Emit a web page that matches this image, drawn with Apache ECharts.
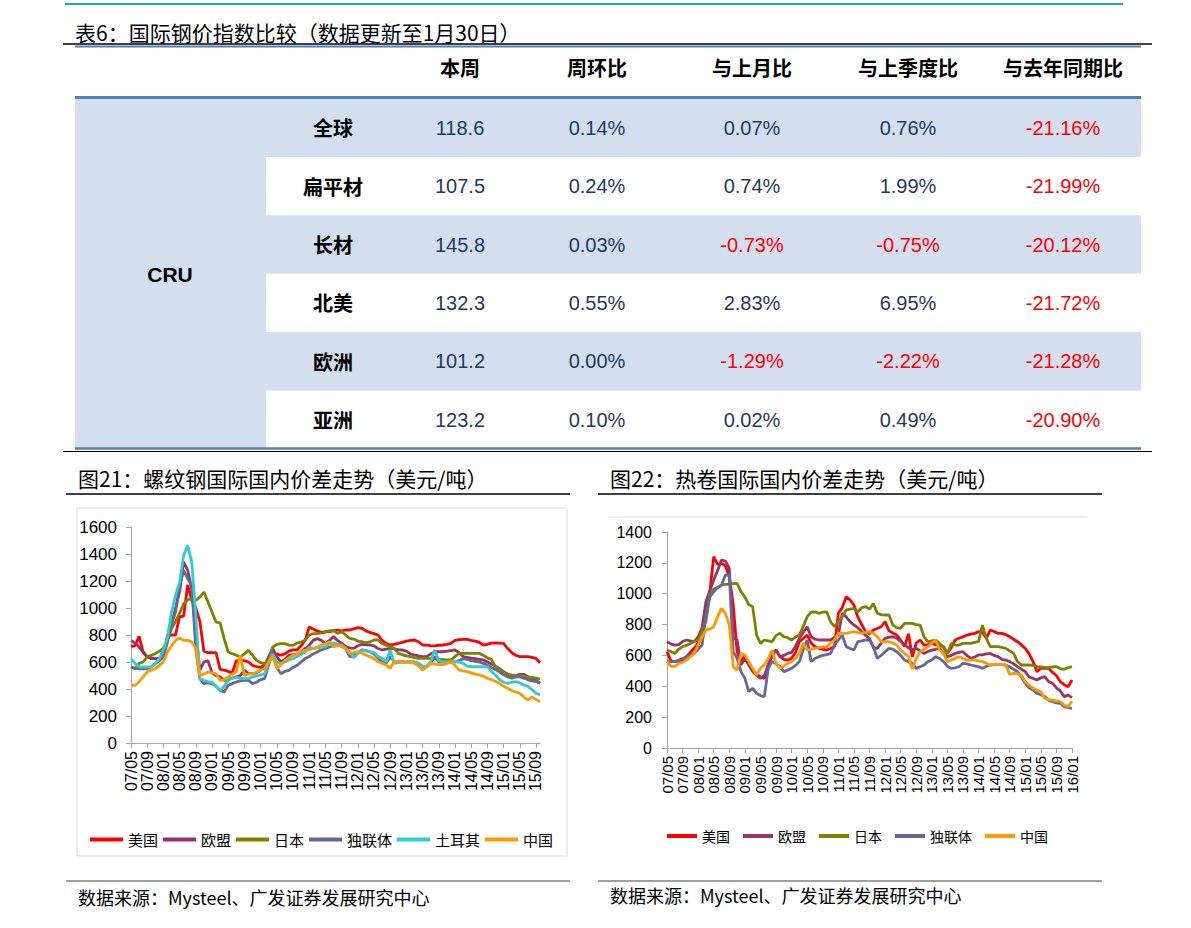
<!DOCTYPE html>
<html>
<head>
<meta charset="utf-8">
<script src="https://cdn.jsdelivr.net/npm/echarts@6/dist/echarts.min.js"></script>
<style>
html,body{margin:0;padding:0;background:#fff;}
#main{width:1191px;height:928px;}
</style>
</head>
<body>
<div id="main"></div>
<script>
// ---------- Table data ----------
const tableTitle = '表6：国际钢价指数比较（数据更新至1月30日）';
const tableGroup = 'CRU';
const tableHeaders = ['本周', '周环比', '与上月比', '与上季度比', '与去年同期比'];
const regions = ['全球', '扁平材', '长材', '北美', '欧洲', '亚洲'];
const thisWeek = [118.6, 107.5, 145.8, 132.3, 101.2, 123.2];
const weekChg = [0.14, 0.24, 0.03, 0.55, 0.00, 0.10];
const monthChg = [0.07, 0.74, -0.73, 2.83, -1.29, 0.02];
const quarterChg = [0.76, 1.99, -0.75, 6.95, -2.22, 0.49];
const yearChg = [-21.16, -21.99, -20.12, -21.72, -21.28, -20.90];

// ---------- Chart data ----------
const title1 = '图21：螺纹钢国际国内价差走势（美元/吨）';
const title2 = '图22：热卷国际国内价差走势（美元/吨）';
const sourceText = '数据来源：Mysteel、广发证券发展研究中心';
const names1 = ['美国', '欧盟', '日本', '独联体', '土耳其', '中国'];
const names2 = ['美国', '欧盟', '日本', '独联体', '中国'];
const colorsByName = {'美国':'#FF0000','欧盟':'#993366','日本':'#808000','独联体':'#666699','土耳其':'#33CCCC','中国':'#FF9900'};
const startYear = 2007, startMonth = 5;

// Chart 1 (rebar), monthly 07/05 .. 15/10
const us1 = [716,720,790,674,637,630,625,625,650,790,
  800,800,935,940,1170,1060,1000,900,680,670,
  670,670,545,540,530,520,610,612,610,600,
  575,565,560,580,600,640,660,650,660,680,
  690,690,720,760,860,845,830,820,825,825,
  830,837,830,837,837,845,854,850,830,820,
  810,800,760,738,726,730,738,745,755,760,
  763,750,726,725,721,720,724,726,730,738,
  760,765,768,768,760,755,745,726,730,740,
  742,740,738,700,670,650,640,640,640,635,
  627,595];
const eu1 = [760,740,711,674,640,625,625,625,650,790,
  880,1000,1120,1340,1280,1140,820,540,600,610,
  520,500,490,464,470,480,490,500,540,515,
  513,520,540,575,640,700,640,600,620,650,
  655,660,674,700,723,760,773,760,735,760,
  788,760,740,714,705,701,720,731,728,726,
  720,700,689,695,701,698,692,689,680,660,
  652,645,640,640,660,676,676,676,680,685,
  689,670,640,635,628,625,620,615,600,585,
  570,550,528,510,491,500,509,509,490,479,
  465,442];
const jp1 = [563,550,590,600,640,650,662,680,700,760,
  847,900,960,1032,1060,1069,1057,1080,1118,1045,
  970,896,890,773,674,662,650,637,660,686,
  650,612,595,588,610,711,730,736,736,725,
  723,740,748,760,800,810,810,815,822,830,
  835,812,825,800,775,770,755,750,743,750,
  763,763,738,725,714,700,664,655,645,640,
  632,627,627,627,627,627,620,618,615,615,
  640,664,664,664,664,664,664,650,630,620,
  565,545,528,510,504,500,499,495,490,486,
  480,474];
const cis1 = [563,555,550,550,550,565,588,610,637,748,
  880,970,1168,1279,1217,1168,700,477,440,445,
  440,420,390,378,427,440,452,460,464,464,
  440,450,470,477,580,674,560,513,530,538,
  560,575,600,625,640,660,674,690,700,711,
  720,730,725,700,640,645,670,690,685,676,
  660,630,600,590,640,600,600,602,600,600,
  600,590,565,570,595,640,600,600,600,600,
  600,610,625,620,610,605,600,590,575,560,
  545,525,505,490,480,490,490,480,470,460,
  455,445];
const tr1 = [625,590,563,563,563,563,590,625,690,780,
  970,1094,1190,1390,1464,1340,946,477,464,455,
  452,420,390,420,464,480,489,480,477,477,
  490,495,505,513,600,660,600,588,600,615,
  625,640,655,674,711,700,705,711,711,740,
  740,730,714,700,676,632,660,689,680,676,
  670,640,627,600,689,590,595,602,602,602,
  600,590,570,565,602,689,610,602,602,602,
  602,600,590,570,565,565,565,565,565,530,
  504,470,450,442,450,454,445,430,420,395,
  370,355];
const cn1 = [427,427,452,490,526,540,550,575,600,674,
  720,760,778,760,760,748,700,500,510,526,
  520,513,464,470,489,510,526,650,500,510,
  513,526,540,550,600,640,550,580,612,630,
  650,660,680,686,690,700,710,725,735,748,
  714,720,726,700,664,670,676,665,652,640,
  625,602,590,578,553,602,602,602,602,595,
  590,570,541,560,590,585,580,578,590,602,
  575,541,535,528,520,510,504,495,479,470,
  455,442,420,405,388,378,368,340,319,340,
  323,306];

// Chart 2 (hot rolled coil), monthly 07/05 .. 16/01
const us2 = [624,565,560,565,570,592,620,646,680,740,
  880,1013,1240,1190,1197,1180,1110,930,624,560,
  600,540,500,480,460,451,538,600,635,592,
  575,570,581,620,689,710,732,680,657,646,
  640,635,645,657,873,910,980,960,927,850,
  800,754,740,765,775,786,819,760,745,732,
  700,657,740,590,680,700,667,670,678,670,
  667,657,613,650,700,711,720,732,738,743,
  754,750,711,765,755,743,743,735,721,705,
  689,668,646,610,560,495,516,516,516,490,
  470,430,410,397,441];
const eu2 = [689,675,667,670,690,700,695,689,720,780,
  948,1020,1089,1150,1218,1212,1164,711,700,538,
  581,540,495,470,451,470,538,600,635,592,
  600,613,620,660,711,750,786,721,705,700,
  700,700,700,716,732,873,850,819,797,780,
  754,730,711,650,646,680,711,718,721,711,
  690,667,650,635,646,630,613,625,635,640,
  646,613,592,600,613,620,624,600,581,590,
  603,603,610,613,600,592,575,570,560,545,
  527,510,495,460,451,441,455,462,430,419,
  390,370,333,343,326];
const jp2 = [635,625,613,640,657,665,678,690,700,760,
  819,991,1030,1040,1056,1060,1061,1065,1067,1013,
  980,930,916,732,678,700,695,689,730,743,
  721,715,700,720,732,790,851,880,883,873,
  880,883,819,786,820,851,894,900,905,883,
  910,916,900,937,873,865,862,862,797,780,
  775,808,808,808,800,797,721,689,695,700,
  678,650,613,678,667,667,678,678,678,685,
  689,797,711,657,657,657,652,646,630,613,
  560,538,538,538,535,527,525,523,521,525,
  527,515,510,520,527];
const cis2 = [560,560,560,570,580,592,605,613,640,667,
  862,980,1013,1040,1056,1121,1125,624,581,495,
  451,365,387,354,340,333,516,560,545,527,
  495,505,516,535,560,640,700,560,580,592,
  600,605,613,667,700,732,657,645,635,689,
  695,700,700,657,581,600,624,646,640,624,
  600,570,560,549,516,527,538,560,570,592,
  580,560,530,516,520,527,549,545,538,532,
  527,516,530,538,540,542,542,535,527,510,
  495,460,419,390,376,354,345,333,310,300,
  292,289,268,262,257];
const cn2 = [560,530,527,549,555,570,590,613,667,720,
  765,770,786,851,905,873,797,527,505,613,
  603,560,516,473,516,540,580,635,549,516,
  530,549,560,580,613,678,635,640,646,650,
  655,657,680,700,743,743,743,750,754,748,
  743,750,754,743,721,689,689,689,680,667,
  635,613,592,512,581,624,640,657,680,700,
  635,613,560,570,581,592,580,570,570,570,
  565,560,550,538,542,542,542,538,477,484,
  480,473,430,408,387,375,365,322,315,311,
  305,300,279,268,305];

const values1 = [us1, eu1, jp1, cis1, tr1, cn1];
const values2 = [us2, eu2, jp2, cis2, cn2];

function monthLabels(n) {
  const out = [];
  let y = startYear, m = startMonth;
  for (let i = 0; i < n; i++) {
    out.push(String(y % 100).padStart(2, '0') + '/' + String(m).padStart(2, '0'));
    m++; if (m > 12) { m = 1; y++; }
  }
  return out;
}
const cats1 = monthLabels(us1.length);
const cats2 = monthLabels(us2.length);

// ---------- Layout ----------
const CJK = '"Noto Sans CJK SC", sans-serif';
const LAT = '"Liberation Sans", Arial, sans-serif';
const tableBlue = '#D3DFEE';
const lineBlue = '#4F81BD';
const numBlue = '#1F3864';

function txt(text, x, y, size, color, align, weight, family) {
  return {
    type: 'text', silent: true, z: 10,
    style: {
      text: text, x: x, y: y,
      fill: color || '#000',
      fontSize: size, fontFamily: family || CJK, fontWeight: weight || 'normal',
      align: align || 'left', verticalAlign: 'middle',
      textAlign: align || 'left', textVerticalAlign: 'middle'
    }
  };
}
function hline(x1, x2, y, color, w) {
  return { type: 'line', silent: true, z: 5, shape: {x1: x1, y1: y, x2: x2, y2: y}, style: {stroke: color, lineWidth: w} };
}
function rect(x, y, w, h, fill) {
  return { type: 'rect', silent: true, z: 1, shape: {x: x, y: y, width: w, height: h}, style: {fill: fill} };
}

const graphics = [];
graphics.push(hline(65, 1123, 4, '#1AA3E0', 2));
graphics.push(txt(tableTitle, 75, 32, 21, '#000'));
graphics.push(hline(63, 1152, 44, '#000', 1.5));
graphics.push(hline(75, 1141, 46.5, lineBlue, 2));

const rowTop = 98.5, rowH = 58.4, tblLeft = 75, nameLeft = 266, tblRight = 1141;
graphics.push(rect(tblLeft, rowTop, nameLeft - tblLeft, rowH * regions.length, tableBlue));
regions.forEach(function (r, i) {
  if (i % 2 === 0) graphics.push(rect(nameLeft, rowTop + i * rowH, tblRight - nameLeft, rowH, tableBlue));
});
graphics.push(hline(75, 1141, 97.5, lineBlue, 3));
graphics.push(hline(75, 1141, 448.5, lineBlue, 2.5));
graphics.push(hline(63, 1152, 451.5, '#000', 1));

const colX = [333, 460, 597, 752, 908, 1063];
tableHeaders.forEach(function (h, j) {
  graphics.push(txt(h, colX[j + 1], 67, 20, '#000', 'center', 'bold'));
});
graphics.push(txt(tableGroup, 170, 274, 21, '#000', 'center', 'bold', LAT));
function pct(v) { return v.toFixed(2) + '%'; }
regions.forEach(function (r, i) {
  const cy = rowTop + i * rowH + rowH / 2;
  graphics.push(txt(r, colX[0], cy, 20, '#000', 'center', 'bold'));
  graphics.push(txt(thisWeek[i].toFixed(1), colX[1], cy, 20, numBlue, 'center', 'normal', LAT));
  [weekChg, monthChg, quarterChg, yearChg].forEach(function (arr, k) {
    const v = arr[i];
    graphics.push(txt(pct(v), colX[k + 2], cy, 20, v < 0 ? '#FF0000' : numBlue, 'center', 'normal', LAT));
  });
});

graphics.push(txt(title1, 78, 478, 21, '#000'));
graphics.push(hline(66, 570, 494, '#000', 1.5));
graphics.push({ type: 'rect', silent: true, z: 1, shape: {x: 77, y: 508, width: 490, height: 348},
  style: {fill: 'none', stroke: '#D9D9D9', lineWidth: 1} });
graphics.push(hline(66, 570, 881, '#808080', 1.5));
graphics.push(txt(sourceText, 78, 897, 18, '#000'));

graphics.push(txt(title2, 610, 478, 21, '#000'));
graphics.push(hline(598, 1102, 494, '#000', 1.5));
graphics.push(hline(608, 1087, 517, '#D9D9D9', 1));
graphics.push(hline(598, 1102, 881, '#808080', 1.5));
graphics.push(txt(sourceText, 610, 895, 18, '#000'));

function xAxisCfg(cats, gridIndex, fs, forceEnds) {
  const label = {interval: 3, rotate: 90, margin: 8, fontSize: fs, color: '#000', fontFamily: LAT, hideOverlap: false};
  if (forceEnds) { label.showMinLabel = true; label.showMaxLabel = true; }
  return {
    type: 'category', gridIndex: gridIndex, data: cats, boundaryGap: false,
    axisLine: {show: true, lineStyle: {color: '#A6A6A6', width: 1}},
    axisTick: {show: true, interval: 3, length: 5, lineStyle: {color: '#A6A6A6'}},
    axisLabel: label,
    splitLine: {show: false}
  };
}
function yAxisCfg(max, gridIndex, fs, margin) {
  return {
    type: 'value', gridIndex: gridIndex, min: 0, max: max, interval: 200,
    axisLine: {show: true, lineStyle: {color: '#A6A6A6', width: 1}},
    axisTick: {show: true, length: 5, lineStyle: {color: '#A6A6A6'}},
    axisLabel: {fontSize: fs, color: '#000', margin: margin, fontFamily: LAT,
      formatter: function (v) { return String(v); }},
    splitLine: {show: false}
  };
}

const series = [];
names1.forEach(function (n, i) {
  series.push({ name: n, type: 'line', xAxisIndex: 0, yAxisIndex: 0, data: values1[i],
    symbol: 'none', showSymbol: false, lineStyle: {width: 2.8, color: colorsByName[n]},
    itemStyle: {color: colorsByName[n]}, z: 3 + i });
});
names2.forEach(function (n, i) {
  series.push({ name: n, type: 'line', xAxisIndex: 1, yAxisIndex: 1, data: values2[i],
    symbol: 'none', showSymbol: false, lineStyle: {width: 2.8, color: colorsByName[n]},
    itemStyle: {color: colorsByName[n]}, z: 3 + i });
});

const chart = echarts.init(document.getElementById('main'), null, {renderer: 'svg'});
chart.setOption({
  animation: false,
  backgroundColor: '#fff',
  textStyle: {fontFamily: CJK},
  grid: [
    {left: 131, top: 527, width: 409, height: 216},
    {left: 667, top: 532, width: 405, height: 216}
  ],
  xAxis: [xAxisCfg(cats1, 0, 16, false), xAxisCfg(cats2, 1, 15, true)],
  yAxis: [yAxisCfg(1600, 0, 17, 14), yAxisCfg(1400, 1, 16, 15)],
  legend: [
    { data: names1, left: 90, top: 832, padding: 0, itemWidth: 33, itemHeight: 4, itemGap: 5, icon: 'rect',
      selectedMode: false, textStyle: {fontSize: 15, color: '#000', fontFamily: CJK} },
    { data: names2, left: 667, top: 829, padding: 0, itemWidth: 30, itemHeight: 4, itemGap: 13, icon: 'rect',
      selectedMode: false, textStyle: {fontSize: 14, color: '#000', fontFamily: CJK} }
  ],
  graphic: graphics,
  series: series
});
</script>
</body>
</html>
